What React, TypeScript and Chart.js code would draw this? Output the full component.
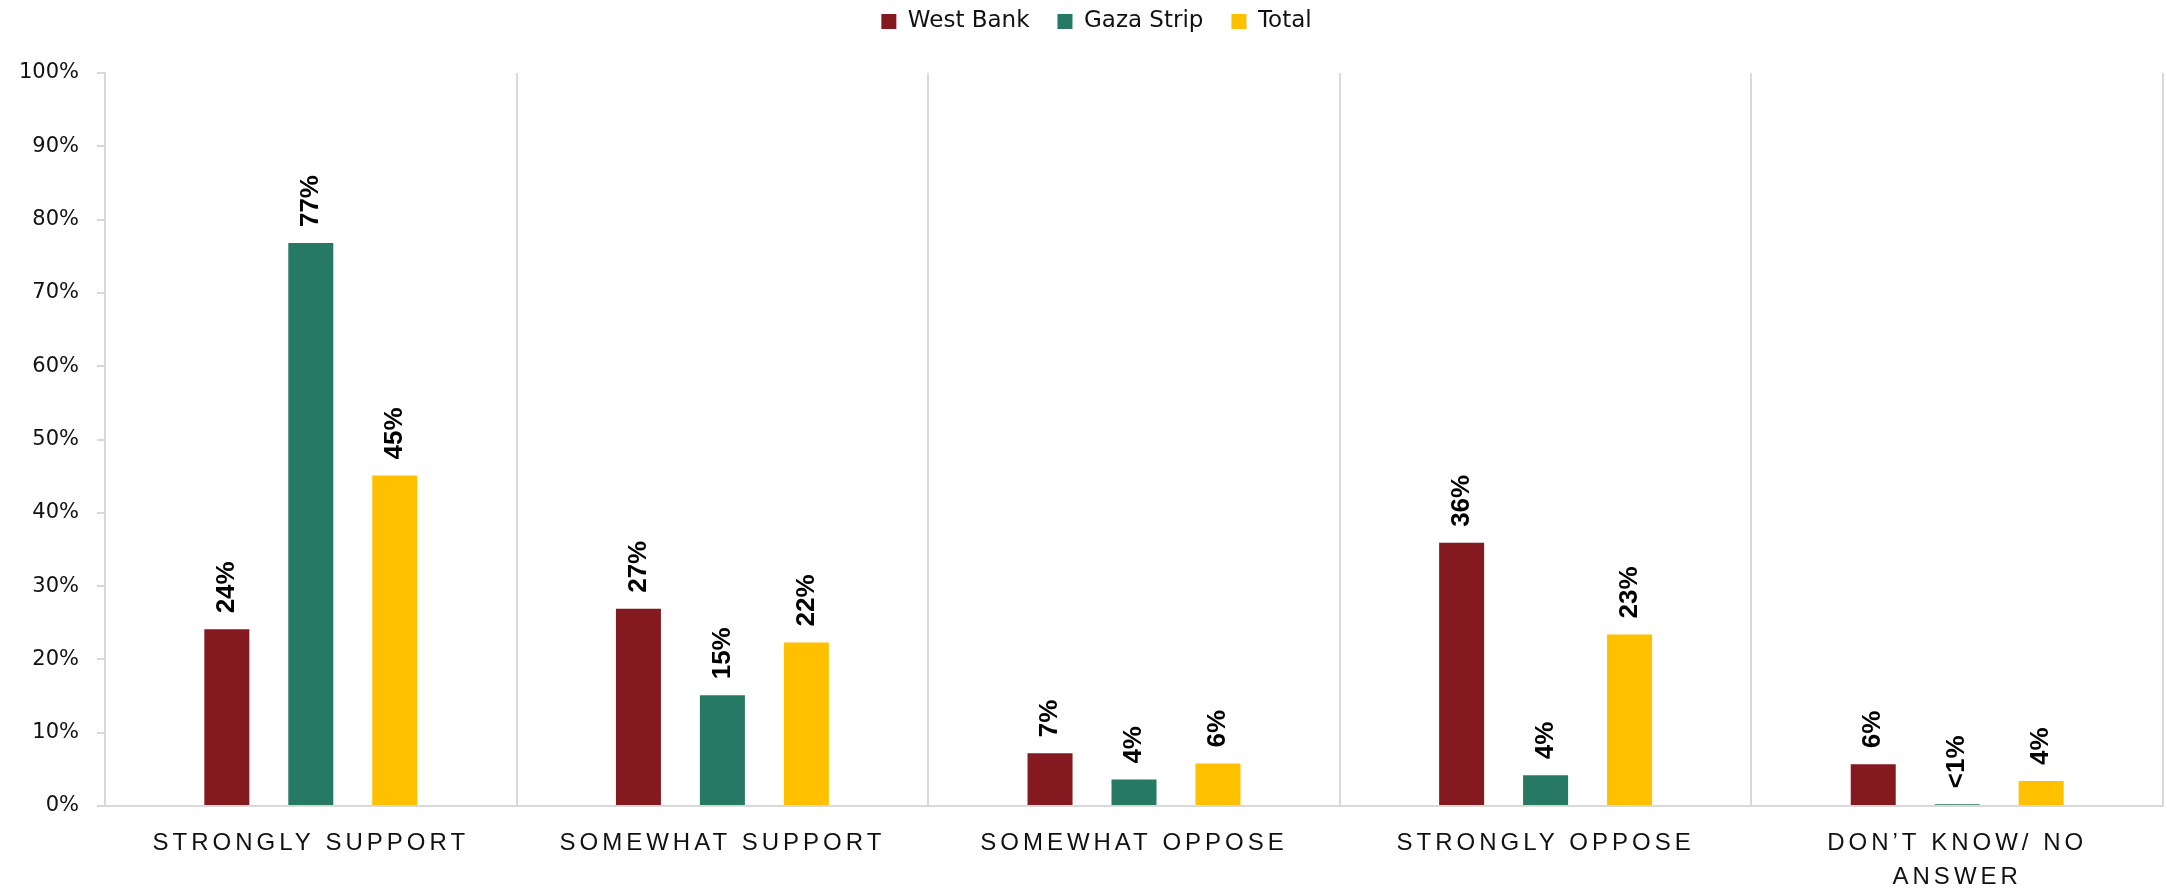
import React, { useEffect, useRef } from 'react';
import { Chart, registerables } from 'chart.js';

Chart.register(...registerables);

const categories: (string | string[])[] = [
  'STRONGLY SUPPORT',
  'SOMEWHAT SUPPORT',
  'SOMEWHAT OPPOSE',
  'STRONGLY OPPOSE',
  ['DON’T KNOW/ NO', 'ANSWER'],
];
const seriesNames = ['West Bank', 'Gaza Strip', 'Total'];
const westBank = [24.1, 26.9, 7.2, 35.9, 5.7];
const gazaStrip = [76.8, 15.1, 3.6, 4.2, 0.25];
const total = [45.1, 22.3, 5.8, 23.4, 3.4];
const westBankLabels = ['24%', '27%', '7%', '36%', '6%'];
const gazaStripLabels = ['77%', '15%', '4%', '4%', '<1%'];
const totalLabels = ['45%', '22%', '6%', '23%', '4%'];
const seriesColors = ['#841A20', '#267962', '#FFC000'];
const yMin = 0;
const yMax = 100;
const yStep = 10;

function patchSpacing(scale: any, px: string) {
  if (scale.__spaced) return;
  const orig = scale.drawLabels;
  scale.drawLabels = function (area: any) {
    const c = this.ctx;
    c.save();
    c.letterSpacing = px;
    orig.call(this, area);
    c.restore();
  };
  scale.__spaced = true;
}

export default function App() {
  const ref = useRef<HTMLCanvasElement>(null);

  useEffect(() => {
    const canvas = ref.current!;
    const labelSets = [westBankLabels, gazaStripLabels, totalLabels];

    const barLabels = {
      id: 'barLabels',
      afterDatasetsDraw(chart: any) {
        const ctx = chart.ctx;
        chart.data.datasets.forEach((_ds: any, i: number) => {
          const meta = chart.getDatasetMeta(i);
          meta.data.forEach((bar: any, j: number) => {
            ctx.save();
            ctx.translate(bar.x, bar.y - 16);
            ctx.rotate(-Math.PI / 2);
            ctx.font = 'bold 26px "Liberation Sans", Arial, sans-serif';
            ctx.fillStyle = '#000';
            ctx.textAlign = 'left';
            ctx.textBaseline = 'middle';
            ctx.fillText(labelSets[i][j], 0, 0);
            ctx.restore();
          });
        });
      },
    };

    const legendTweak = {
      id: 'legendTweak',
      afterInit(chart: any) {
        const lg = chart.legend;
        if (!lg) return;
        const fit = lg.fit;
        lg.fit = function () {
          fit.call(this);
          this.height = 73;
        };
        const draw = lg.draw;
        lg.draw = function () {
          const c = this.ctx;
          c.save();
          c.translate(15, -18);
          draw.call(this);
          c.restore();
        };
      },
    };

    const chart = new Chart(canvas, {
      type: 'bar',
      data: {
        labels: categories as any,
        datasets: [westBank, gazaStrip, total].map((d, i) => ({
          label: seriesNames[i],
          data: d,
          backgroundColor: seriesColors[i],
          borderWidth: 0,
          categoryPercentage: 0.612,
          barPercentage: 0.536,
        })),
      },
      options: {
        animation: false,
        responsive: false,
        maintainAspectRatio: false,
        layout: { padding: { left: 0, right: 4, top: 0, bottom: 0 } },
        plugins: {
          tooltip: { enabled: false },
          legend: {
            position: 'top',
            labels: {
              boxWidth: 15,
              boxHeight: 15,
              padding: 28,
              color: '#111',
              font: { family: '"DejaVu Sans", sans-serif', size: 23 },
            },
          },
        },
        scales: {
          x: {
            offset: true,
            grid: {
              offset: true,
              drawOnChartArea: true,
              drawTicks: false,
              color: '#d9d9d9',
              lineWidth: 2,
            },
            border: { color: '#d9d9d9', width: 2 },
            ticks: {
              color: '#111',
              padding: 20,
              maxRotation: 0,
              autoSkip: false,
              font: { family: '"Liberation Sans", Arial, sans-serif', size: 24, lineHeight: 1.42 },
            },
            afterFit: (s: any) => {
              s.height = 85;
            },
            afterUpdate: (s: any) => patchSpacing(s, '4px'),
          },
          y: {
            min: yMin,
            max: yMax,
            grid: {
              drawOnChartArea: false,
              drawTicks: true,
              tickLength: 8,
              color: '#d9d9d9',
              lineWidth: 2,
            },
            border: { color: '#d9d9d9', width: 2 },
            ticks: {
              stepSize: yStep,
              color: '#111',
              padding: 18,
              font: { family: '"DejaVu Sans", sans-serif', size: 21 },
              callback: (v: any) => v + '%',
            },
            afterFit: (s: any) => {
              s.width = 105;
            },
          },
        },
      },
      plugins: [barLabels, legendTweak],
    } as any);

    return () => chart.destroy();
  }, []);

  return (
    <div style={{ position: 'fixed', left: 0, top: 0, width: 2167, height: 891, background: '#fff' }}>
      <canvas ref={ref} width={2167} height={891} style={{ display: 'block' }} />
    </div>
  );
}
